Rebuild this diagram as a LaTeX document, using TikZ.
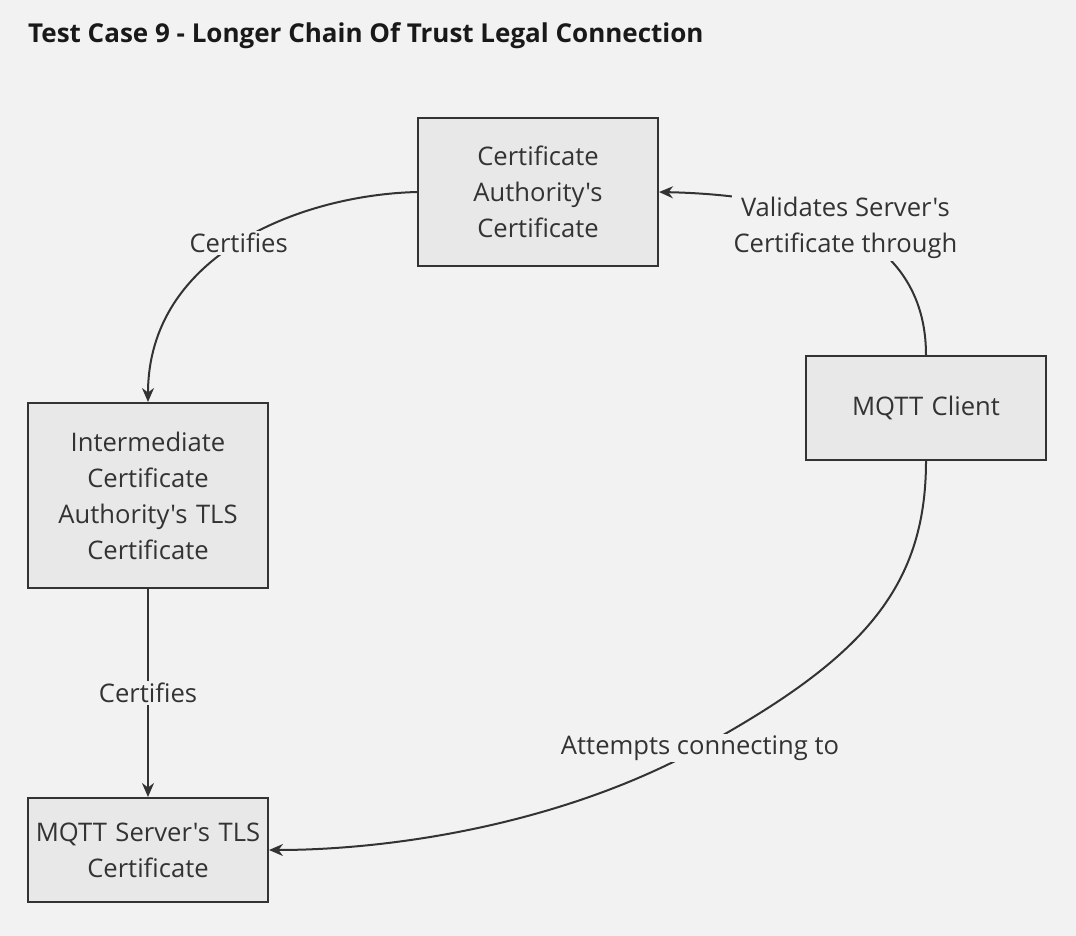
\documentclass[tikz,border=0pt]{standalone}
\usepackage{fontspec}
\setmainfont{Open Sans}[Ligatures=TeXOff]
\usetikzlibrary{arrows.meta}
\definecolor{bg}{HTML}{F2F2F2}
\definecolor{boxfill}{HTML}{E8E8E8}
\definecolor{ink}{HTML}{333333}
\begin{document}
\begin{tikzpicture}[x=1pt, y=-1pt,
		cert/.style={draw=ink, fill=boxfill, line width=2pt, minimum width=240pt, text width=230pt, align=center, text=ink, font=\fontsize{25.6}{36}\selectfont},
		link/.style={draw=ink, line width=2pt, -{Stealth[length=14pt, width=12pt]}},
		lbl/.style={fill=bg, text=ink, align=center, inner sep=2pt, font=\fontsize{25.6}{36}\selectfont}]
		\fill[bg] (0,0) rectangle (1076,936);
		\useasboundingbox (0,0) rectangle (1076,936);
		\node[anchor=west, text=black!90, font=\bfseries\fontsize{26}{30}\selectfont, inner sep=0pt] (title) at (28,36) {Test Case 9 - Longer Chain Of Trust Legal Connection};
		
		\node[cert, minimum height=148pt] (ca) at (538,192) {Certificate\\Authority's\\Certificate};
		\node[cert, minimum height=185pt] (inter) at (148,495.5) {Intermediate\\Certificate\\Authority's TLS\\Certificate};
		\node[cert, minimum height=104pt] (server) at (148,850) {MQTT Server's TLS\\Certificate};
		\node[cert, minimum height=104pt] (client) at (926,408) {MQTT Client};
		
		\draw[link] (ca.west) .. controls (300,195) and (148,255) .. (inter.north) node[lbl, pos=0.5] {Certifies};
		\draw[link] (inter.south) -- (server.north) node[lbl, midway] {Certifies};
		\draw[link] (client.north) .. controls (926,230) and (800,195) .. (ca.east) node[lbl, pos=0.5] {Validates Server's\\Certificate through};
		\draw[link] (client.south) .. controls (926,590) and (860,660) .. (700,748) node[lbl] {Attempts connecting to} .. controls (560,825) and (390,850) .. (server.east);
	\end{tikzpicture}
\end{document}
